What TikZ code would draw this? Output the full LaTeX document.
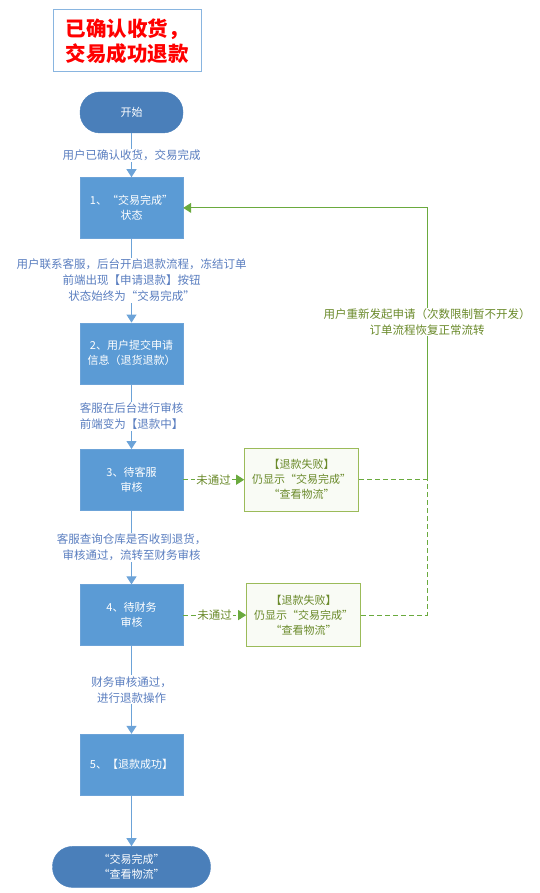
\documentclass[tikz,border=0pt]{standalone}
\usepackage{fontspec}
\setmainfont{Noto Sans CJK SC}
\usetikzlibrary{positioning}
\usetikzlibrary{arrows.meta}
\definecolor{boxblue}{HTML}{5B9BD5}
\definecolor{termblue}{HTML}{4A7FBA}
\definecolor{lineblue}{HTML}{6CA3D8}
\definecolor{textblue}{HTML}{5A7EC0}
\definecolor{failgreen}{HTML}{9BBB59}
\definecolor{linegreen}{HTML}{6AAA3E}
\definecolor{textgreen}{HTML}{6A8A2A}
\tikzset{
  stepbox/.style={draw=lineblue, fill=boxblue, text=white, minimum width=103pt,
    minimum height=61pt, inner sep=0pt, align=center, font=\fontsize{11}{15}\selectfont},
  termbox/.style={stepbox, fill=termblue, draw=termblue, minimum height=41pt, rounded corners=20pt},
  failbox/.style={draw=failgreen, line width=1pt, fill=failgreen!6, text=textgreen,
    minimum width=114pt, minimum height=63pt, inner sep=0pt, align=center,
    font=\fontsize{11}{15}\selectfont},
  flow/.style={draw=lineblue, line width=1pt, -{Triangle[length=8pt,width=10pt]}},
  back/.style={draw=linegreen, line width=1pt},
  fail/.style={back, dash pattern=on 5pt off 3pt},
  lbl/.style={fill=white, text=textblue, align=center, inner sep=1pt,
    font=\fontsize{11.5}{16}\selectfont},
  glbl/.style={lbl, text=textgreen}
}
\begin{document}
\begin{tikzpicture}[x=1pt, y=-1pt]
  \useasboundingbox (0,0) rectangle (539,893);

  \node [draw=lineblue!80, line width=1pt, minimum width=148pt, minimum height=62pt,
    text=red, align=center, font=\fontsize{20.5}{25}\selectfont\bfseries] (title) at (127,41)
    {已确认收货，\\交易成功退款};

  \node [termbox] (start) at (131.5,112.5) {开始};
  \node [stepbox, below=44pt of start] (s1) {1、“交易完成”\\状态};
  \node [stepbox, below=84pt of s1] (s2) {2、用户提交申请\\信息（退货退款）};
  \node [stepbox, below=65pt of s2] (s3) {3、待客服\\审核};
  \node [stepbox, below=74pt of s3] (s4) {4、待财务\\审核};
  \node [stepbox, below=88pt of s4] (s5) {5、【退款成功】};
  \node [termbox, below=51pt of s5, minimum width=158pt] (end) {“交易完成”\\“查看物流”};

  \node [failbox, right=61pt of s3] (f1) {【退款失败】\\仍显示“交易完成”\\“查看物流”};
  \node [failbox, right=63pt of s4] (f2) {【退款失败】\\仍显示“交易完成”\\“查看物流”};

  \coordinate [right=68pt of f1.east] (turn);

  \draw [flow] (start) -- node [lbl] {用户已确认收货，交易完成} (s1);
  \draw [flow] (s1) -- node [lbl] {用户联系客服，后台开启退款流程，冻结订单\\前端出现【申请退款】按钮\\状态始终为“交易完成”} (s2);
  \draw [flow] (s2) -- node [lbl] {客服在后台进行审核\\前端变为【退款中】} (s3);
  \draw [flow] (s3) -- node [lbl] {客服查询仓库是否收到退货，\\审核通过，流转至财务审核} (s4);
  \draw [flow] (s4) -- node [lbl] {财务审核通过，\\进行退款操作} (s5);
  \draw [flow] (s5) -- (end);

  \draw [fail, -{Triangle[length=8pt,width=10pt]}] (s3) -- node [glbl] {未通过} (f1);
  \draw [fail, -{Triangle[length=8pt,width=10pt]}] (s4) -- node [glbl] {未通过} (f2);
  \draw [fail] (f1) -- (turn);
  \draw [fail] (f2) -| (turn);
  \draw [back, -{Triangle[length=8pt,width=10pt]}] (turn) |- node [glbl, pos=0.29]
    {用户重新发起申请（次数限制暂不开发）\\订单流程恢复正常流转} (s1);
\end{tikzpicture}
\end{document}
